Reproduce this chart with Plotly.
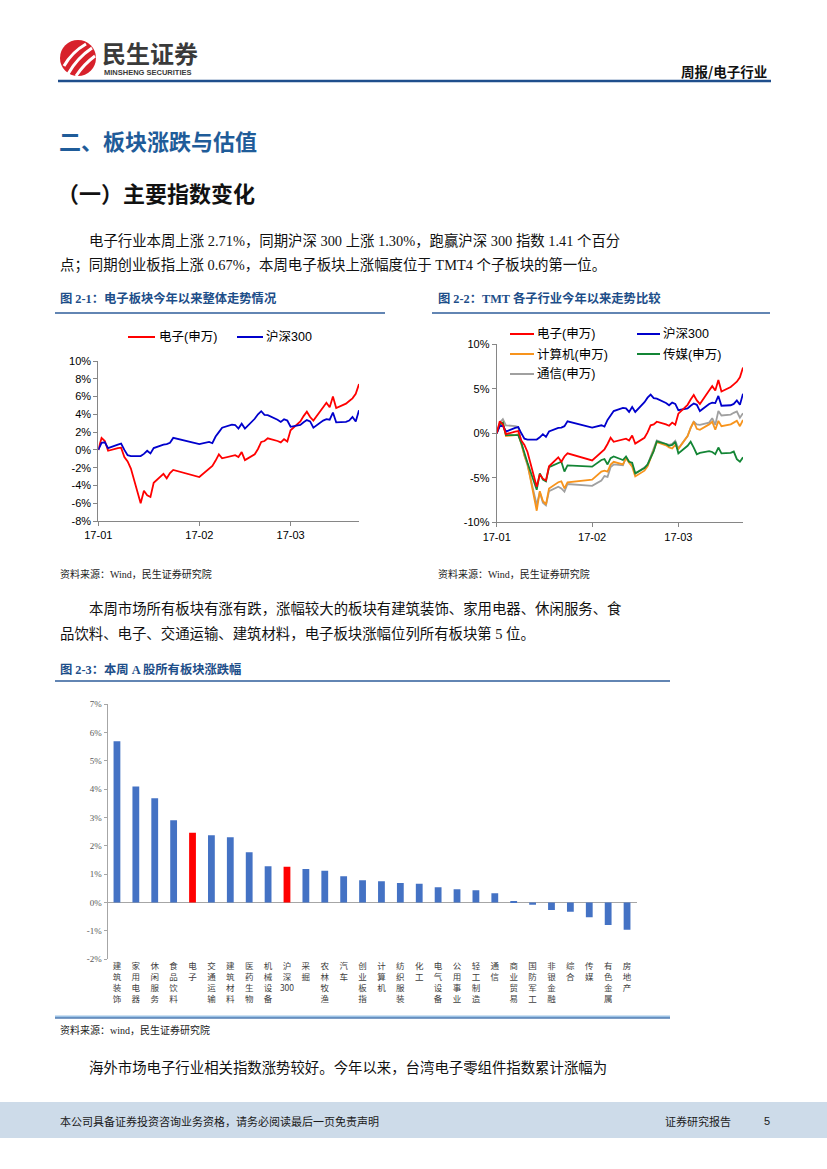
import plotly.graph_objects as go
import re

W, H = 827, 1169
def px(x): return x / W
def py(y): return 1 - y / H

# ---------------- data ----------------
dates = ["2017-01-03","2017-01-04","2017-01-05","2017-01-06","2017-01-09","2017-01-10","2017-01-11","2017-01-12","2017-01-13",
         "2017-01-16","2017-01-17","2017-01-18","2017-01-19","2017-01-20","2017-01-23","2017-01-24","2017-01-25","2017-01-26",
         "2017-02-03","2017-02-06","2017-02-07","2017-02-08","2017-02-09","2017-02-10","2017-02-13","2017-02-14","2017-02-15",
         "2017-02-16","2017-02-17","2017-02-20","2017-02-21","2017-02-22","2017-02-23","2017-02-24","2017-02-27","2017-02-28",
         "2017-03-01","2017-03-02","2017-03-03","2017-03-06","2017-03-07","2017-03-08","2017-03-09","2017-03-10","2017-03-13",
         "2017-03-14","2017-03-15","2017-03-16","2017-03-17","2017-03-20","2017-03-21","2017-03-22","2017-03-23","2017-03-24"]

dianzi = [0, 1.35, 1.0, -0.1, 0.2, 0.25, -0.8, -1.3, -2.1, -6.0, -4.6, -5.1, -5.3, -3.7, -2.7, -3.2, -2.6, -2.25,
          -3.05, -2.1, -1.8, -1.2, -0.5, -0.95, -0.65, -0.6, -0.8, -0.25, -1.15, -0.5, 0.1, 0.9, 1.0, 1.3, 1.0, 0.85,
          1.2, 0.95, 2.2, 3.2, 3.8, 4.3, 3.7, 3.3, 4.8, 5.3, 4.8, 6.0, 4.7, 5.2, 5.5, 5.8, 6.3, 7.4]
husheng300 = [0, 0.8, 0.85, 0.2, 0.6, 0.7, 0.0, -0.6, -0.7, -0.7, -0.45, -0.1, -0.4, 0.2, 0.6, 0.65, 0.8, 1.35,
              0.65, 0.9, 0.75, 1.5, 2.0, 2.5, 2.85, 2.8, 2.4, 2.95, 2.4, 3.5, 4.0, 4.35, 3.95, 3.9, 3.4, 3.15,
              3.45, 3.3, 2.6, 2.8, 3.1, 3.35, 3.2, 2.5, 3.3, 3.45, 3.4, 4.2, 3.1, 3.15, 3.3, 3.7, 3.2, 4.45]
jisuanji = [0, 1.0, 1.2, -0.3, -0.2, -0.1, -1.2, -2.5, -3.4, -8.7, -6.5, -7.6, -8.0, -6.2, -5.5, -5.4, -6.2, -5.5,
            -5.2, -4.3, -4.2, -4.3, -3.5, -3.2, -3.5, -2.8, -3.3, -3.75, -4.85, -4.2, -3.7, -2.8, -2.0, -1.0, -1.35, -1.6,
            -1.7, -1.3, -1.75, -0.3, 0.6, 1.3, 0.5, 0.4, 1.0, 1.3, 0.4, 1.4, 0.8, 1.0, 1.2, 1.4, 0.8, 1.5]
chuanmei = [0, 1.0, 1.2, -0.2, -0.2, -0.2, -1.1, -2.3, -3.3, -6.35, -4.5, -5.2, -5.4, -3.8, -3.3, -3.2, -4.3, -3.6,
            -3.75, -3.0, -2.9, -3.5, -2.8, -2.6, -3.0, -2.6, -3.2, -3.3, -4.5, -3.9, -3.5, -2.7, -2.0, -0.9, -1.2, -1.4,
            -1.3, -0.95, -2.25, -1.4, -0.95, -1.6, -2.35, -2.2, -2.0, -2.1, -2.35, -1.6, -2.25, -2.2, -2.05, -2.9, -3.2, -2.7]
tongxin = [0, 1.2, 1.6, 0.9, 0.8, 0.7, -1.0, -2.5, -3.6, -8.05, -6.6, -7.8, -8.1, -6.5, -6.0, -6.2, -6.55, -5.7,
           -5.9, -5.3, -4.8, -4.9, -3.8, -3.5, -3.6, -2.7, -3.2, -3.5, -4.55, -3.9, -3.6, -2.6, -1.8, -0.8, -1.2, -1.3,
           -1.2, -0.85, -1.7, -0.3, 0.6, 1.3, 1.0, 0.95, 1.2, 1.7, 0.95, 2.5, 2.0, 2.1, 2.3, 2.45, 1.75, 2.25]

month_ticks = ["2017-01-03", "2017-02-03", "2017-03-03"]
month_labels = ["17-01", "17-02", "17-03"]

sectors = ["建筑装饰","家用电器","休闲服务","食品饮料","电子","交通运输","建筑材料","医药生物","机械设备","沪深300",
           "采掘","农林牧渔","汽车","创业板指","计算机","纺织服装","化工","电气设备","公用事业","轻工制造","通信",
           "商业贸易","国防军工","非银金融","综合","传媒","有色金属","房地产"]
weekly_change = [5.69, 4.09, 3.68, 2.90, 2.46, 2.37, 2.30, 1.77, 1.28, 1.26, 1.18, 1.12, 0.93, 0.79, 0.75, 0.69, 0.66,
                 0.54, 0.47, 0.43, 0.33, 0.03, -0.08, -0.26, -0.32, -0.52, -0.79, -0.96]
highlighted = ["电子", "沪深300"]

# ---------------- styles ----------------
SANS = "Liberation Sans, Arial, Noto Sans CJK SC, sans-serif"
SERIF = "Liberation Serif, Times New Roman, Noto Sans CJK SC, serif"
CJK = "Noto Sans CJK SC, sans-serif"
RED, BLUE, ORANGE, GREEN, GREY = "#FF0000", "#0000CC", "#F7941D", "#138535", "#A0A0A0"
AXIS = "#868686"
TITLE_BLUE = "#1f5c99"
CAP_BLUE = "#1d4e89"

fig = go.Figure()

# chart 1
fig.add_trace(go.Scatter(x=dates, y=dianzi, mode="lines", line=dict(color=RED, width=1.8), xaxis="x", yaxis="y"))
fig.add_trace(go.Scatter(x=dates, y=husheng300, mode="lines", line=dict(color=BLUE, width=1.8), xaxis="x", yaxis="y"))
# chart 2
for ser, col in [(tongxin, GREY), (jisuanji, ORANGE), (chuanmei, GREEN), (husheng300, BLUE), (dianzi, RED)]:
    fig.add_trace(go.Scatter(x=dates, y=ser, mode="lines", line=dict(color=col, width=1.8), xaxis="x2", yaxis="y2"))
# chart 3
bar_colors = [RED if s in highlighted else "#4472C4" for s in sectors]
fig.add_trace(go.Bar(x=sectors, y=weekly_change, marker=dict(color=bar_colors, line=dict(width=0)),
                     width=0.36, xaxis="x3", yaxis="y3"))

def vlabel(s):
    parts = re.findall(r"[0-9A-Za-z]+|.", s)
    return "<br>".join(parts)

pct = lambda v: f"{v}%"

line_x_common = dict(type="date", showgrid=False, zeroline=False, showline=True, linecolor=AXIS, linewidth=1,
                     ticks="outside", ticklen=4, tickcolor=AXIS, tickvals=month_ticks, ticktext=month_labels,
                     automargin=False, tickfont=dict(family=SANS, size=11, color="#000"))
line_y_common = dict(showgrid=False, zeroline=False, showline=True, linecolor=AXIS, linewidth=1, automargin=False,
                     ticks="outside", ticklen=4, tickcolor=AXIS, tickfont=dict(family=SANS, size=11, color="#000"))

y1_vals = [-8, -6, -4, -2, 0, 2, 4, 6, 8, 10]
y2_vals = [-10, -5, 0, 5, 10]
y3_vals = [-2, -1, 0, 1, 2, 3, 4, 5, 6, 7]

fig.update_layout(
    template="none",
    width=W, height=H, autosize=False, margin=dict(l=0, r=0, t=0, b=0, pad=0),
    paper_bgcolor="white", plot_bgcolor="rgba(0,0,0,0)", showlegend=False,
    xaxis=dict(domain=[px(98.3), px(359)], range=["2017-01-03", "2017-03-24"], anchor="y", **line_x_common),
    yaxis=dict(domain=[py(521), py(361)], range=[-8, 10], tickvals=y1_vals, ticktext=[pct(v) for v in y1_vals],
               anchor="x", **line_y_common),
    xaxis2=dict(domain=[px(496.7), px(743)], range=["2017-01-03", "2017-03-24"], anchor="y2", **line_x_common),
    yaxis2=dict(domain=[py(522.3), py(344.3)], range=[-10, 10], tickvals=y2_vals, ticktext=[pct(v) for v in y2_vals],
                anchor="x2", **line_y_common),
    xaxis3=dict(domain=[px(107.5), px(636.5)], anchor="y3", type="category", showline=False, showgrid=False,
                zeroline=False, ticks="", tickvals=sectors, ticktext=[vlabel(s) for s in sectors], tickangle=0,
                automargin=False, tickfont=dict(family=CJK, size=8.5, color="#404040"),
                range=[-0.5, len(sectors) - 0.5]),
    yaxis3=dict(domain=[py(959.3), py(704)], anchor="x3", range=[-2, 7], tickvals=y3_vals,
                ticktext=[pct(v) for v in y3_vals], showgrid=False, zeroline=True, zerolinecolor="#A6A6A6",
                zerolinewidth=1, showline=True, linecolor="#A6A6A6", ticks="outside", ticklen=3, tickcolor="#A6A6A6",
                automargin=False, tickfont=dict(family=SERIF, size=9, color="#595959")),
)

ann = []
def text(x, y, s, size, color="#000", family=CJK, xanchor="left", bold=False):
    if bold:
        s = f"<b>{s}</b>"
    ann.append(dict(x=px(x), y=py(y), xref="paper", yref="paper", text=s, showarrow=False, xanchor=xanchor,
                    yanchor="middle", borderpad=0, font=dict(size=size, color=color, family=family)))

shapes = []
def hline(x0, x1, y, color, width):
    shapes.append(dict(type="line", xref="paper", yref="paper", x0=px(x0), x1=px(x1), y0=py(y), y1=py(y),
                       line=dict(color=color, width=width)))

# header
shapes.append(dict(type="circle", xref="paper", yref="paper", x0=px(60), x1=px(96), y0=py(76), y1=py(40),
                   fillcolor="#D7212B", line=dict(width=0)))
for (ax, ay, cx, cy, bx, by) in [(64, 66, 72, 52, 86, 44), (68, 74, 77, 58, 92, 48), (76, 76, 84, 64, 95, 56)]:
    shapes.append(dict(type="path", xref="paper", yref="paper",
                       path=f"M {px(ax)},{py(ay)} Q {px(cx)},{py(cy)} {px(bx)},{py(by)}",
                       line=dict(color="white", width=3)))
text(101, 52, "民生证券", 24, color="#3a3a3a", bold=True)
text(103, 73, "MINSHENG SECURITIES", 7.5, color="#3a3a3a", family=SANS, bold=True)
text(768, 71, "周报/电子行业", 13.5, color="#111", xanchor="right", bold=True)
hline(58, 771, 81, "#1F4E8C", 2.5)

# section titles and paragraphs
text(58, 140, "二、板块涨跌与估值", 22, color=TITLE_BLUE, bold=True)
text(56, 192, "（一）主要指数变化", 22, color="#111", bold=True)
para_font = SERIF
text(88, 241, "电子行业本周上涨 2.71%，同期沪深 300 上涨 1.30%，跑赢沪深 300 指数 1.41 个百分", 14.4, color="#111", family=para_font)
text(59, 265, "点；同期创业板指上涨 0.67%，本周电子板块上涨幅度位于 TMT4 个子板块的第一位。", 14.4, color="#111", family=para_font)

# figure captions
text(59, 298, "图 2-1：电子板块今年以来整体走势情况", 12.3, color=CAP_BLUE, family=SERIF, bold=True)
text(437, 298, "图 2-2：TMT 各子行业今年以来走势比较", 12.3, color=CAP_BLUE, family=SERIF, bold=True)
hline(55, 385, 313, "#2E5C9A", 1.5)
hline(432, 770, 313, "#2E5C9A", 1.5)

# chart legends
def legend_key(x0, x1, y, color):
    shapes.append(dict(type="line", xref="paper", yref="paper", x0=px(x0), x1=px(x1), y0=py(y), y1=py(y),
                       line=dict(color=color, width=2)))
legend_key(128, 155, 337, RED); text(158, 337, "电子(申万)", 12.5, family=SANS)
legend_key(237, 263, 337, BLUE); text(265, 337, "沪深300", 12.5, family=SANS)

legend_key(510, 534, 334, RED); text(536, 334, "电子(申万)", 12.5, family=SANS)
legend_key(637, 660, 334, BLUE); text(662, 334, "沪深300", 12.5, family=SANS)
legend_key(510, 534, 354, ORANGE); text(536, 354, "计算机(申万)", 12.5, family=SANS)
legend_key(637, 660, 354, GREEN); text(662, 354, "传媒(申万)", 12.5, family=SANS)
legend_key(510, 534, 374, GREY); text(536, 374, "通信(申万)", 12.5, family=SANS)

text(59, 574, "资料来源：Wind，民生证券研究院", 10, color="#222", family=SERIF)
text(437, 574, "资料来源：Wind，民生证券研究院", 10, color="#222", family=SERIF)

text(88, 608, "本周市场所有板块有涨有跌，涨幅较大的板块有建筑装饰、家用电器、休闲服务、食", 14.4, color="#111", family=para_font)
text(59, 633, "品饮料、电子、交通运输、建筑材料，电子板块涨幅位列所有板块第 5 位。", 14.4, color="#111", family=para_font)

text(59, 669, "图 2-3：本周 A 股所有板块涨跌幅", 12.3, color=CAP_BLUE, family=SERIF, bold=True)
hline(55, 670, 681, "#2E5C9A", 1.5)
hline(55, 670, 1017, "#9DC3E6", 3)
hline(55, 670, 1018, "#2E5C9A", 1.2)

text(59, 1030, "资料来源：wind，民生证券研究院", 10, color="#222", family=SERIF)
text(88, 1067, "海外市场电子行业相关指数涨势较好。今年以来，台湾电子零组件指数累计涨幅为", 14.4, color="#111", family=para_font)

# footer
shapes.append(dict(type="rect", xref="paper", yref="paper", x0=0, x1=1, y0=py(1138), y1=py(1102),
                   fillcolor="#CDDBE9", line=dict(width=0), layer="below"))
text(59, 1121, "本公司具备证券投资咨询业务资格，请务必阅读最后一页免责声明", 11, color="#1a1a1a")
text(664, 1121, "证券研究报告", 11, color="#1a1a1a")
text(763, 1121, "5", 11, color="#1a1a1a", family=SANS)

fig.update_layout(annotations=ann, shapes=shapes)
fig.write_html("out.html", config={"displayModeBar": False},
               post_script="document.body.style.margin='0';document.body.style.padding='0';")
